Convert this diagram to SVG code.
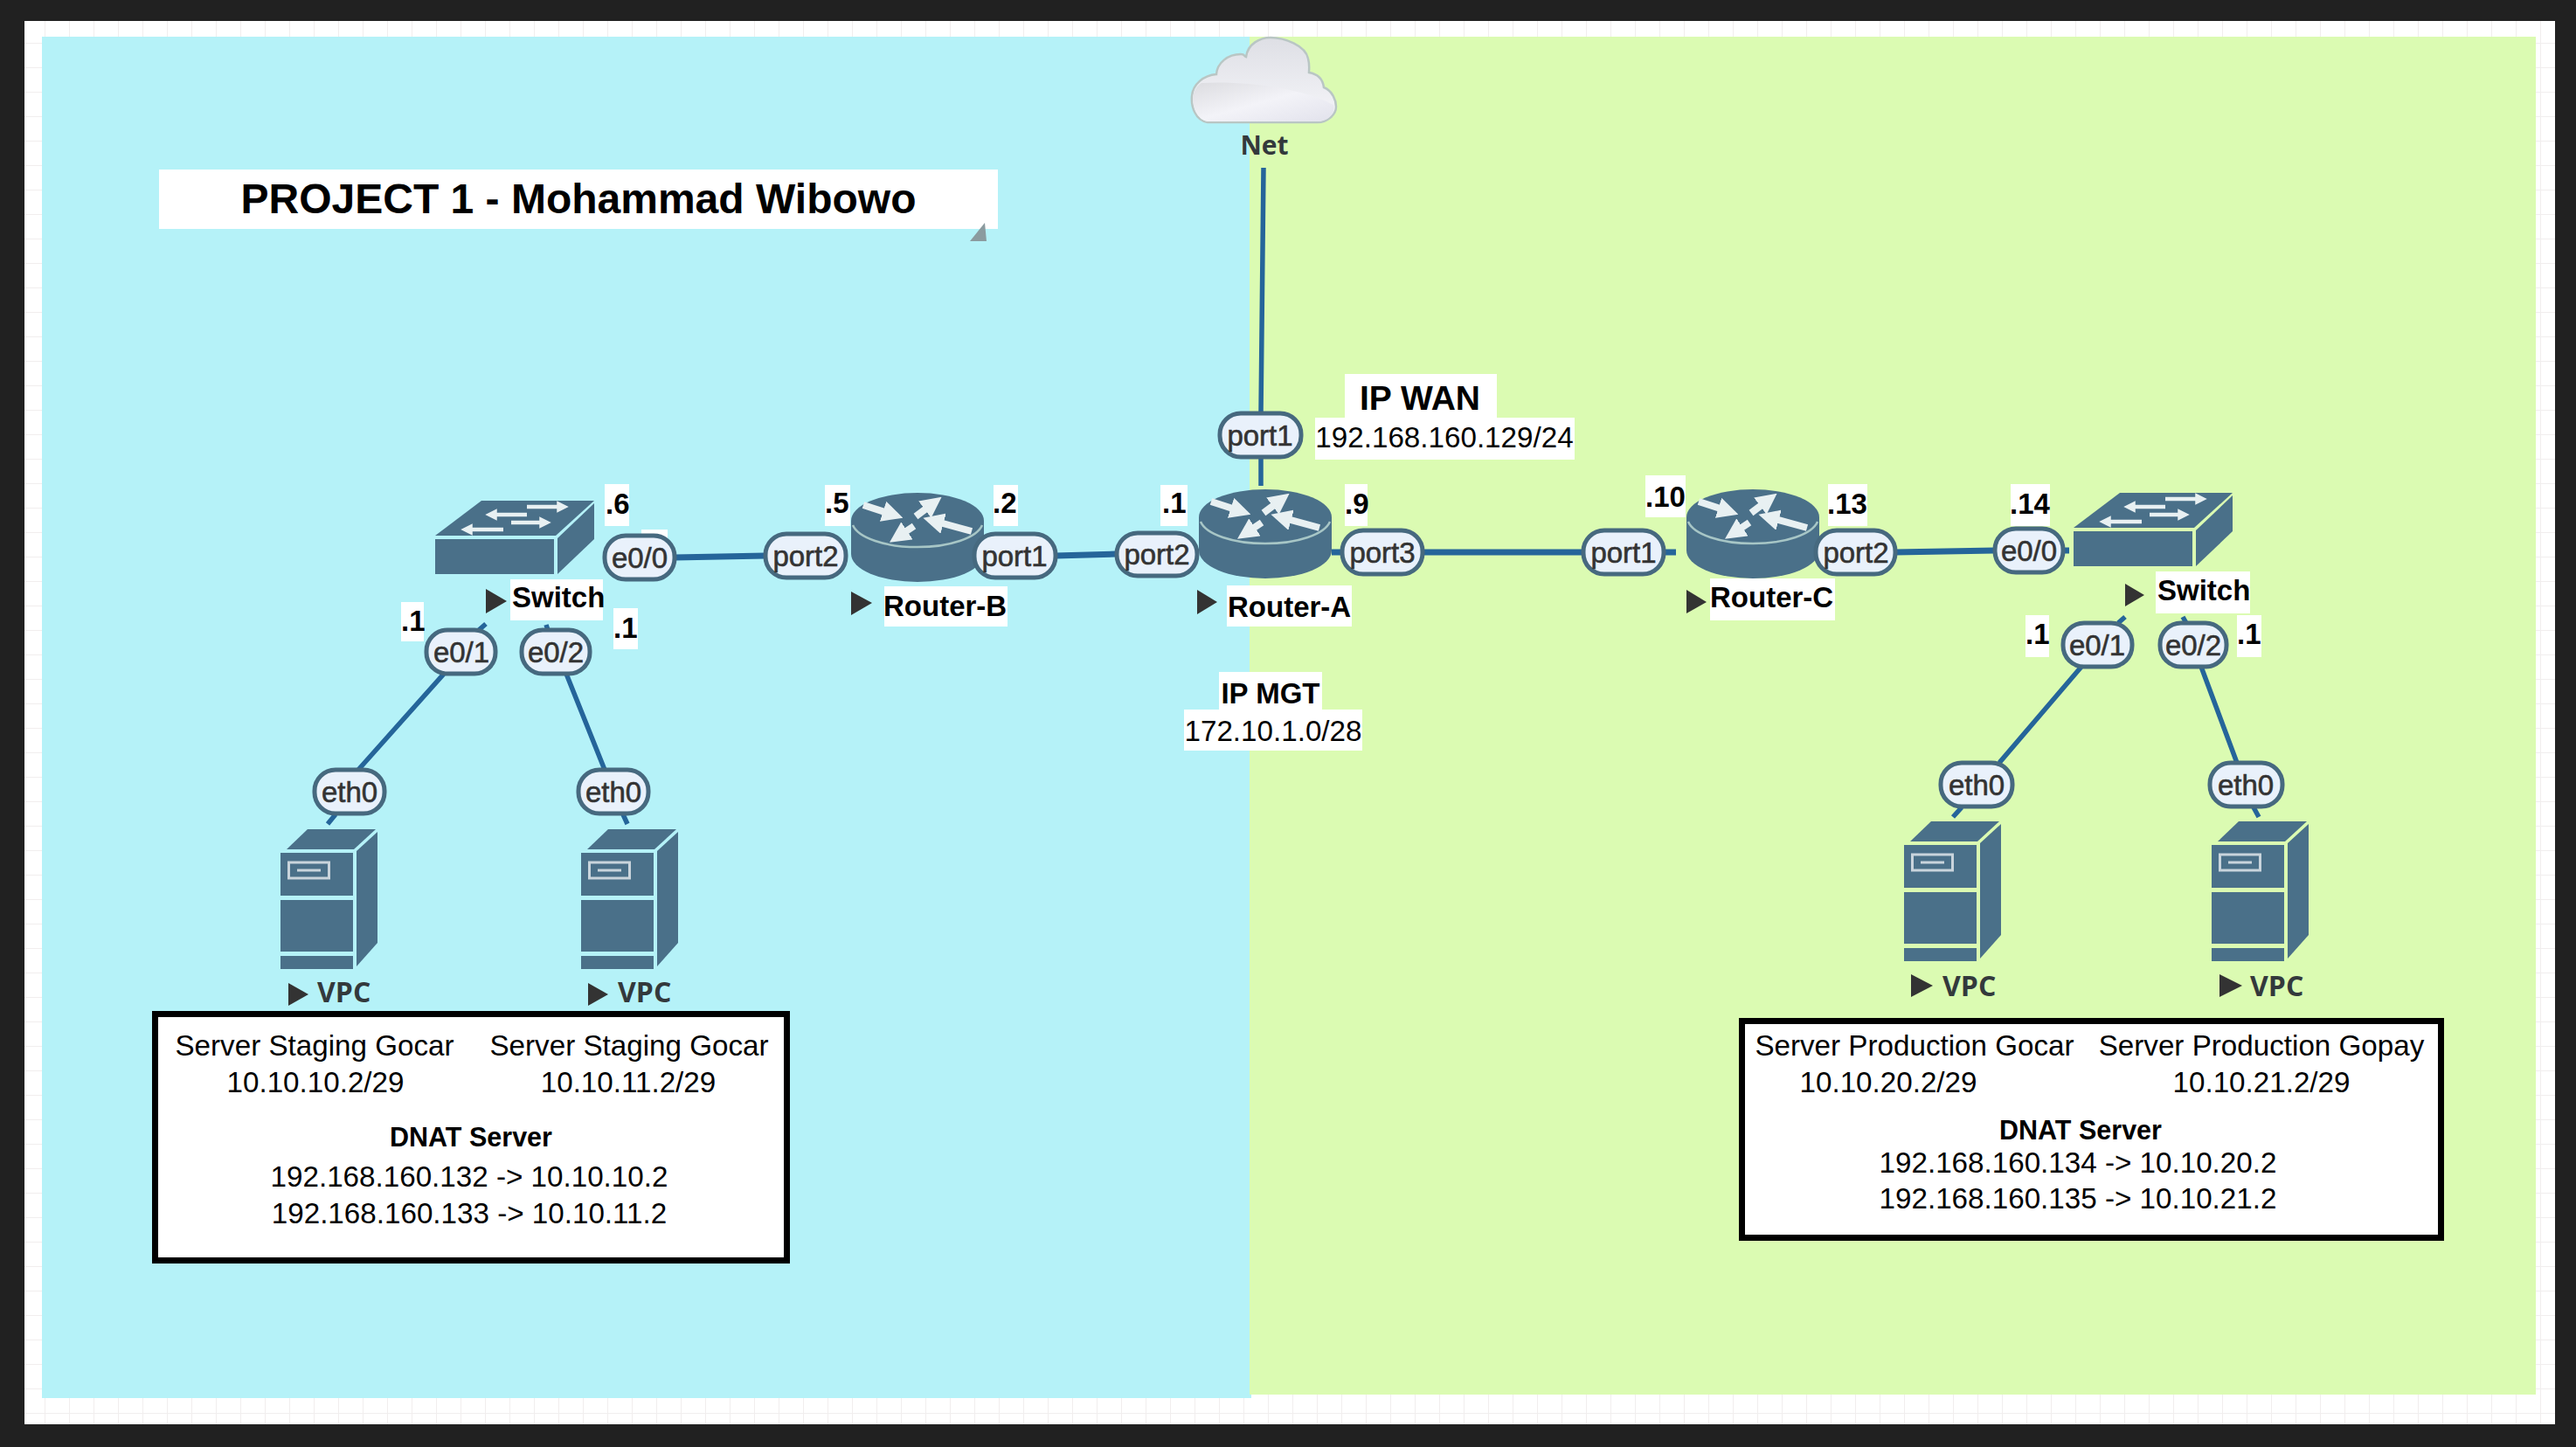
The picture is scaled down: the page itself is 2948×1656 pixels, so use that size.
<svg xmlns="http://www.w3.org/2000/svg" width="2948" height="1656" viewBox="0 0 2948 1656">
<style>
text{font-family:"Liberation Sans",Arial,sans-serif;fill:#000}
.bg{fill:#fff}
.pill rect{fill:#e9f1fb;stroke:#46697f;stroke-width:5}
.pill text{font-size:33px;fill:#333;stroke:#333;stroke-width:.6;text-anchor:middle}
.b{font-size:33px;font-weight:700}
.r{font-size:33.200px}
.m{text-anchor:middle}
.tri{fill:#333}
.os{font-family:"Open Sans","Liberation Sans",sans-serif;font-size:30px;font-weight:700;fill:#33393c}
.vpc{font-size:32px}
.link{fill:none;stroke:#25659a;stroke-width:5.500;stroke-linecap:butt}
.hv{stroke-width:7}
.ic{fill:#4a7089}
.arw{stroke:#e8f0f2;fill:none;marker-end:url(#h)}
</style>
<defs>
<pattern id="grid" width="28" height="28" patternUnits="userSpaceOnUse" patternTransform="translate(24 22)"><path d="M28 0V28M0 28H28" stroke="#f1eeee" stroke-width="2" fill="none"/></pattern>
<marker id="h" markerWidth="3" markerHeight="3" refX="1.500" refY="1.500" orient="auto"><path d="M0 0L3 1.500L0 3Z" fill="#e8f0f2"/></marker>
<linearGradient id="cg" x1="0" y1="0" x2="0" y2="1"><stop offset="0" stop-color="#dedfe5"/><stop offset="1" stop-color="#f6f6fa"/></linearGradient>
<linearGradient id="cg2" x1="0" y1="0" x2="1" y2="1"><stop offset="0" stop-color="#dcdce0"/><stop offset=".5" stop-color="#f3f3f8"/><stop offset="1" stop-color="#e2e2ec"/></linearGradient>
<symbol id="router" width="153" height="102" viewBox="0 0 153 102" overflow="visible">
<path class="ic" d="M0 32A76 32 0 0 1 152 32V70A76 32 0 0 1 0 70Z"/>
<path d="M2 37A75 30 0 0 0 150 37" fill="none" stroke="#a7c6c6" stroke-width="2.500"/>
<g class="arw" stroke-width="8"><path d="M14 14L48 25"/><path d="M74 27L94 12"/><path d="M138 44L94 32"/><path d="M72 38L54 50"/></g>
</symbol>
<symbol id="switch" width="182" height="84" viewBox="0 0 182 84" overflow="visible">
<path class="ic" d="M0 40L53 0H182L138 40Z"/>
<path class="ic" d="M0 44H136V84H0Z"/>
<path class="ic" d="M140 43L182 3V44L140 84Z"/>
<g class="arw" stroke-width="4.500"><path d="M105 7H146"/><path d="M105 16H64"/><path d="M87 25H126"/><path d="M78 33H36"/></g>
</symbol>
<symbol id="server" width="111" height="160" viewBox="0 0 111 160" overflow="visible">
<path class="ic" d="M7 23L31 0H109L84 23Z"/>
<path class="ic" d="M87 25L111 3V130L87 157Z"/>
<path class="ic" d="M0 27H83V76H0ZM0 81H83V140H0ZM0 145H83V160H0Z"/>
<rect x="9.500" y="38" width="46" height="18" fill="none" stroke="#fff" stroke-opacity=".7" stroke-width="3"/>
<path d="M19 47H46" stroke="#fff" stroke-opacity=".7" stroke-width="3"/>
</symbol>
</defs>

<g id="canvas">
<rect width="2948" height="1656" fill="#212121"/>
<rect x="28" y="24" width="2896" height="1606" fill="#fff"/>
<rect x="28" y="24" width="2896" height="1606" fill="url(#grid)"/>
<rect x="48" y="42" width="1384" height="1558" fill="#b5f2f8"/>
<rect x="1430" y="42" width="1472" height="1554" fill="#dbfbb2"/>
</g>

<g id="title">
<rect x="182" y="194" width="960" height="68" class="bg"/>
<text x="662" y="244" font-size="48" font-weight="700" class="m">PROJECT 1 - Mohammad Wibowo</text>
<path d="M1127 255L1110 276H1129Z" fill="#8b9b9f"/>
</g>

<g id="connectors" class="link">
<path d="M1446 192L1443 473M1443 523V556"/>
<path class="hv" d="M772 638L876 636M1208 636L1277 634"/>
<path class="hv" d="M1524 632H1536M1628 632H1812M1904 632H1918"/>
<path class="hv" d="M2169 632L2283 630M2361 630H2368"/>
<path d="M556 714L548 721M508 771L410 881M384 932L375 943"/>
<path d="M625 715L627 721M648 771L692 881M713 932L718 943"/>
<path d="M2432 706L2424 713M2382 763L2288 873M2245 924L2235 935"/>
<path d="M2498 706L2502 713M2519 763L2560 873M2579 924L2585 935"/>
</g>

<g id="net">
<path d="M1382 140C1368 138 1363 122 1364 110C1365 96 1378 86 1392 85C1393 72 1405 62 1420 62C1425 62 1423 64 1426 65C1428 50 1442 43 1454 43C1470 43 1494 52 1497 67C1499 75 1498 78 1498 83C1510 85 1514 92 1515 100C1525 104 1529 115 1529 122C1529 132 1518 140 1508 140Z" fill="url(#cg)" stroke="#b9c6c4" stroke-width="2.500"/>
<path d="M1375 95C1420 92 1490 100 1526 120C1529 132 1518 139 1508 139H1382C1370 137 1365 122 1365 112C1366 104 1370 98 1375 95Z" fill="url(#cg2)"/>
<text x="1447" y="177" class="os m">Net</text>
</g>

<g id="router-b">
<use href="#router" x="974" y="564"/>
<path class="tri" d="M974 677L998 690L974 704Z"/>
<rect x="1012" y="671" width="141" height="46" class="bg"/>
<text x="1011" y="705" class="b">Router-B</text>
<rect x="944" y="555" width="29" height="47" class="bg"/><text x="944" y="587" class="b">.5</text>
<rect x="1137" y="555" width="28" height="47" class="bg"/><text x="1136" y="587" class="b">.2</text>
</g>

<g id="router-a">
<use href="#router" x="1372" y="560"/>
<path class="tri" d="M1370 675L1393 689L1370 703Z"/>
<rect x="1404" y="670" width="143" height="47" class="bg"/>
<text x="1405" y="706" class="b">Router-A</text>
<rect x="1328" y="555" width="31" height="47" class="bg"/><text x="1330" y="587" class="b">.1</text>
<rect x="1539" y="554" width="26" height="48" class="bg"/><text x="1539" y="588" class="b">.9</text>
</g>

<g id="router-c">
<use href="#router" x="1930" y="560"/>
<path class="tri" d="M1930 675L1953 689L1930 702Z"/>
<rect x="1957" y="662" width="143" height="48" class="bg"/>
<text x="1957" y="695" class="b">Router-C</text>
<rect x="1883" y="544" width="46" height="48" class="bg"/><text x="1883" y="580" class="b">.10</text>
<rect x="2092" y="554" width="45" height="48" class="bg"/><text x="2091" y="588" class="b">.13</text>
</g>

<g id="switch-left">
<use href="#switch" x="498" y="573"/>
<path class="tri" d="M556 674L580 688L556 702Z"/>
<rect x="584" y="663" width="106" height="47" class="bg"/>
<text x="586" y="695" class="b">Switch</text>
<rect x="692" y="554" width="28" height="48" class="bg"/><text x="693" y="588" class="b">.6</text>
<rect x="734" y="606" width="30" height="14" class="bg"/>
<rect x="459" y="689" width="26" height="45" class="bg"/><text x="459" y="722" class="b">.1</text>
<rect x="702" y="696" width="28" height="47" class="bg"/><text x="702" y="730" class="b">.1</text>
</g>

<g id="switch-right">
<use href="#switch" x="2373" y="564"/>
<path class="tri" d="M2432 668L2454 681L2432 694Z"/>
<rect x="2467" y="654" width="108" height="48" class="bg"/>
<text x="2469" y="687" class="b">Switch</text>
<rect x="2301" y="554" width="45" height="48" class="bg"/><text x="2300" y="588" class="b">.14</text>
<rect x="2318" y="704" width="27" height="48" class="bg"/><text x="2318" y="737" class="b">.1</text>
<rect x="2560" y="704" width="28" height="48" class="bg"/><text x="2560" y="737" class="b">.1</text>
</g>

<g id="vpc-1">
<use href="#server" x="321" y="949"/>
<path class="tri" d="M330 1125L353 1138L330 1151Z"/>
<text x="363" y="1147" class="os vpc">VPC</text>
</g>
<g id="vpc-2">
<use href="#server" x="665" y="949"/>
<path class="tri" d="M673 1125L696 1138L673 1151Z"/>
<text x="707" y="1147" class="os vpc">VPC</text>
</g>
<g id="vpc-3">
<use href="#server" x="2179" y="940"/>
<path class="tri" d="M2187 1115L2212 1128L2187 1141Z"/>
<text x="2223" y="1140" class="os vpc">VPC</text>
</g>
<g id="vpc-4">
<use href="#server" x="2531" y="940"/>
<path class="tri" d="M2540 1115L2566 1128L2540 1141Z"/>
<text x="2575" y="1140" class="os vpc">VPC</text>
</g>

<g id="ports">
<g class="pill" id="p-a1"><rect x="1396" y="473" width="93" height="50" rx="24"/><text x="1442" y="510">port1</text></g>
<g class="pill" id="p-a2"><rect x="1278" y="610" width="92" height="49" rx="24"/><text x="1324" y="646">port2</text></g>
<g class="pill" id="p-a3"><rect x="1536" y="607" width="92" height="50" rx="24"/><text x="1582" y="644">port3</text></g>
<g class="pill" id="p-b2"><rect x="876" y="611" width="92" height="50" rx="24"/><text x="922" y="648">port2</text></g>
<g class="pill" id="p-b1"><rect x="1115" y="611" width="93" height="50" rx="24"/><text x="1161" y="648">port1</text></g>
<g class="pill" id="p-c1"><rect x="1812" y="607" width="92" height="50" rx="24"/><text x="1858" y="644">port1</text></g>
<g class="pill" id="p-c2"><rect x="2078" y="607" width="91" height="50" rx="24"/><text x="2124" y="644">port2</text></g>
<g class="pill" id="p-sl0"><rect x="692" y="613" width="80" height="50" rx="24"/><text x="732" y="650">e0/0</text></g>
<g class="pill" id="p-sl1"><rect x="488" y="721" width="79" height="50" rx="24"/><text x="528" y="758">e0/1</text></g>
<g class="pill" id="p-sl2"><rect x="597" y="721" width="78" height="50" rx="24"/><text x="636" y="758">e0/2</text></g>
<g class="pill" id="p-sr0"><rect x="2283" y="605" width="78" height="50" rx="24"/><text x="2322" y="642">e0/0</text></g>
<g class="pill" id="p-sr1"><rect x="2361" y="713" width="79" height="50" rx="24"/><text x="2400" y="750">e0/1</text></g>
<g class="pill" id="p-sr2"><rect x="2472" y="713" width="76" height="50" rx="24"/><text x="2510" y="750">e0/2</text></g>
<g class="pill" id="p-v1"><rect x="360" y="881" width="80" height="50" rx="24"/><text x="400" y="918">eth0</text></g>
<g class="pill" id="p-v2"><rect x="662" y="881" width="80" height="50" rx="24"/><text x="702" y="918">eth0</text></g>
<g class="pill" id="p-v3"><rect x="2221" y="873" width="82" height="50" rx="24"/><text x="2262" y="910">eth0</text></g>
<g class="pill" id="p-v4"><rect x="2529" y="873" width="83" height="50" rx="24"/><text x="2570" y="910">eth0</text></g>
</g>

<g id="ip-wan">
<rect x="1539" y="428" width="174" height="50" class="bg"/>
<rect x="1505" y="478" width="297" height="48" class="bg"/>
<text x="1625" y="469" font-size="39" font-weight="700" class="m">IP WAN</text>
<text x="1653" y="512" class="r m">192.168.160.129/24</text>
</g>
<g id="ip-mgt">
<rect x="1395" y="769" width="118" height="43" class="bg"/>
<rect x="1355" y="812" width="204" height="47" class="bg"/>
<text x="1454" y="805" class="b m">IP MGT</text>
<text x="1457" y="848" class="r m">172.10.1.0/28</text>
</g>

<g id="info-left">
<rect x="177.500" y="1160.500" width="723" height="282" fill="#fff" stroke="#000" stroke-width="7"/>
<text x="360" y="1208" class="r m">Server Staging Gocar</text>
<text x="720" y="1208" class="r m">Server Staging Gocar</text>
<text x="361" y="1250" class="r m">10.10.10.2/29</text>
<text x="719" y="1250" class="r m">10.10.11.2/29</text>
<text x="539" y="1312" font-size="30.500" font-weight="700" class="m">DNAT Server</text>
<text x="537" y="1358" class="r m">192.168.160.132 -&gt; 10.10.10.2</text>
<text x="537" y="1400" class="r m">192.168.160.133 -&gt; 10.10.11.2</text>
</g>
<g id="info-right">
<rect x="1993.500" y="1168.500" width="800" height="248" fill="#fff" stroke="#000" stroke-width="7"/>
<text x="2191" y="1208" class="r m">Server Production Gocar</text>
<text x="2588" y="1208" class="r m">Server Production Gopay</text>
<text x="2161" y="1250" class="r m">10.10.20.2/29</text>
<text x="2588" y="1250" class="r m">10.10.21.2/29</text>
<text x="2381" y="1304" font-size="30.500" font-weight="700" class="m">DNAT Server</text>
<text x="2378" y="1342" class="r m">192.168.160.134 -&gt; 10.10.20.2</text>
<text x="2378" y="1383" class="r m">192.168.160.135 -&gt; 10.10.21.2</text>
</g>
</svg>
